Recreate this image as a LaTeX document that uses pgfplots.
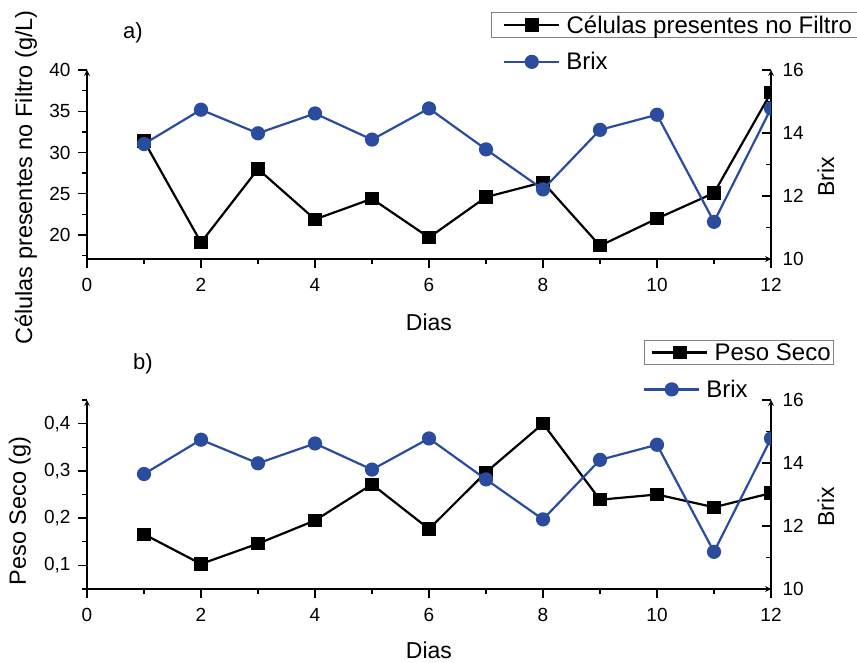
\documentclass[border=0pt]{standalone}
\usepackage{fontspec}
\setmainfont{Liberation Sans}
\usepackage{pgfplots}
\usepackage{pgfplotstable}
\pgfplotsset{compat=1.18}
\definecolor{brixblue}{HTML}{2A4B9E}

\pgfplotstableread{
d cel
1 31.4
2 19.1
3 28.0
4 21.9
5 24.4
6 19.7
7 24.6
8 26.4
9 18.7
10 22.0
11 25.1
12 37.25
}\celtab
\pgfplotstableread{
d brix
1 13.65
2 14.74
3 13.99
4 14.62
5 13.79
6 14.78
7 13.48
8 12.21
9 14.10
10 14.58
11 11.18
12 14.78
}\brixtab
\pgfplotstableread{
d peso
1 0.166
2 0.103
3 0.146
4 0.195
5 0.2715
6 0.177
7 0.297
8 0.400
9 0.239
10 0.250
11 0.223
12 0.253
}\pesotab

\pgfplotsset{
 base/.style={scale only axis, width=684pt, height=189pt, xmin=0, xmax=12,
   clip marker paths=true,
   /pgf/number format/assume math mode=true,
   tick label style={font=\fontsize{19}{19}\selectfont},
   axis line style={line width=1.6pt, -},
   major tick length=9pt, minor tick length=5pt,
   tick style={line width=1.4pt, black},
   legend cell align=left,
   legend image code/.code={\path (-6pt,0pt) (59pt,0pt);\draw[mark repeat=2,mark phase=2] plot coordinates {(0pt,0pt) (27.5pt,0pt) (55pt,0pt)};},
 },
 leftax/.style={base, axis x line=bottom, axis y line=left, tick align=outside,
   xtick={0,2,...,12}, minor xtick={1,3,...,11},
   xticklabel style={yshift=-7pt},
   yticklabel style={xshift=-4pt},
   xlabel={Dias},
   xlabel style={font=\fontsize{23}{23}\selectfont, inner sep=0pt, at={(axis description cs:0.5,0)}, anchor=base, yshift=-72pt},
 },
 rightax/.style={base, axis x line=none, axis y line=right, tick align=inside,
   ymin=10, ymax=16, ytick={10,12,14,16}, minor ytick={11,13,15},
   yticklabel style={xshift=8pt},
   ylabel={Brix},
   ylabel style={font=\fontsize{23}{23}\selectfont, inner sep=0pt, at={(axis description cs:1.0921,0.4339)}, anchor=base, rotate=0},
 },
 blk/.style={black, line width=2.2pt, mark=square*, mark size=5.5pt, mark options={solid}},
 blu/.style={brixblue, line width=2.2pt, mark=*, mark size=6pt, mark options={solid}},
}

\begin{document}
\begin{tikzpicture}
\useasboundingbox (0,0) rectangle (857pt,662pt);
% ---------- panel a
\begin{axis}[leftax, name=pa, at={(87pt,403pt)}, anchor=south west,
  ymin=17.1, ymax=40, ytick={20,25,...,40}, minor ytick={17.5,22.5,...,37.5},
  ylabel={Células presentes no Filtro (g/L)},
  ylabel style={font=\fontsize{23.5}{23.5}\selectfont, inner sep=0pt, at={(axis description cs:-0.0804,0.4312)}, anchor=base},
  legend style={at={(axis description cs:0.5906,1.307)}, anchor=north west, draw=gray, line width=0.8pt,
     font=\fontsize{24}{24}\selectfont, inner xsep=6pt, inner ysep=1pt},
  ]
\addplot[blk] table[x=d, y=cel] {\celtab};
\addlegendentry{Células presentes no Filtro}
\end{axis}
\begin{axis}[rightax, at={(87pt,403pt)}, anchor=south west,
  legend style={at={(axis description cs:0.5906,1.11)}, anchor=north west, draw=none, fill=none,
     font=\fontsize{24}{24}\selectfont, inner xsep=6pt, inner ysep=1pt},
  ]
\addplot[blu] table[x=d, y=brix] {\brixtab};
\addlegendentry{Brix}
\end{axis}
\node[font=\fontsize{22}{22}\selectfont] at ([xshift=46pt,yshift=37pt]pa.north west) {a)};
% ---------- panel b
\begin{axis}[leftax, name=pb, at={(87pt,73pt)}, anchor=south west,
  ymin=0.05, ymax=0.45, ytick={0.1,0.2,0.3,0.4}, minor ytick={0.05,0.15,0.25,0.35,0.45},
  yticklabel style={/pgf/number format/.cd, fixed, fixed zerofill, precision=1, use comma},
  ylabel={Peso Seco (g)},
  xlabel style={yshift=3pt},
  ylabel style={font=\fontsize{23.5}{23.5}\selectfont, inner sep=0pt, at={(axis description cs:-0.0892,0.4127)}, anchor=base},
  legend style={at={(axis description cs:0.8143,1.3175)}, anchor=north west, draw=gray, line width=0.8pt,
     font=\fontsize{24}{24}\selectfont, inner xsep=1pt, inner ysep=1pt},
  ]
\addplot[blk] table[x=d, y=peso] {\pesotab};
\addlegendentry{Peso Seco}
\end{axis}
\begin{axis}[rightax, at={(87pt,73pt)}, anchor=south west,
  legend style={at={(axis description cs:0.8026,1.123)}, anchor=north west, draw=none, fill=none,
     font=\fontsize{24}{24}\selectfont, inner xsep=1pt, inner ysep=1pt},
  ]
\addplot[blu] table[x=d, y=brix] {\brixtab};
\addlegendentry{Brix}
\end{axis}
\node[font=\fontsize{22}{22}\selectfont] at ([xshift=56pt,yshift=36pt]pb.north west) {b)};
\end{tikzpicture}
\end{document}
